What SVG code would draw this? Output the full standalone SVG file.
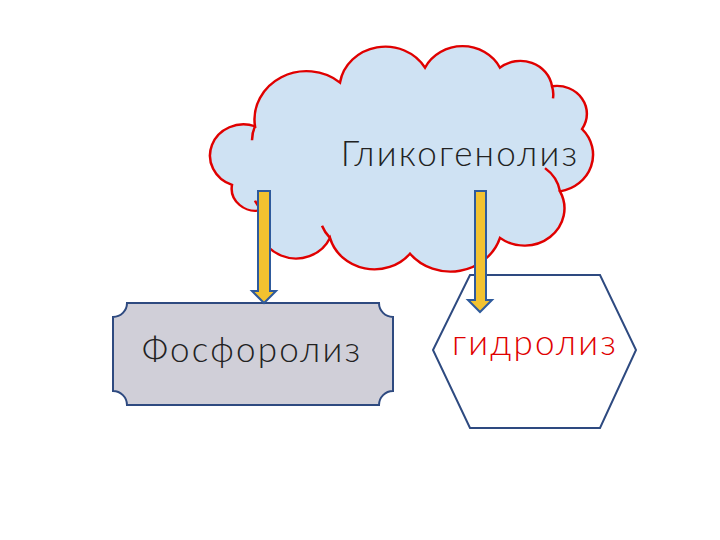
<svg xmlns="http://www.w3.org/2000/svg" width="720" height="540" viewBox="0 0 720 540">
<style>
.t{font-family:Lato,"Open Sans","DejaVu Sans",sans-serif;font-size:35px;font-weight:300;letter-spacing:2.2px}
.ar{fill:#f2c230;stroke:#2e5a9c;stroke-width:2}
</style>
<rect width="720" height="540" fill="#fff"/>
<g id="cloud">
<g transform="translate(0,10) scale(1,0.93)">
<path d="M232,188 A32,32 0 0 1 255,125 A52,52 0 0 1 340,78 A46,46 0 0 1 425,62 A42,42 0 0 1 500,62 A32,32 0 0 1 552,82 A30,30 0 0 1 582,128 A40,40 0 0 1 560,195 A40,40 0 0 1 500,245 A52,52 0 0 1 410,262 A46,46 0 0 1 330,245 A36,36 0 0 1 262,215 A24,24 0 0 1 232,188 Z" fill="#cfe2f3" stroke="#e00000" stroke-width="2.5"/>
<path d="M255,125 A40,40 0 0 0 252,140 M552,82 A30,30 0 0 1 553,95 M560,195 A40,40 0 0 0 545,170 M330,245 A40,40 0 0 1 322,232 M262,215 A30,30 0 0 1 255,205" fill="none" stroke="#e00000" stroke-width="2.5"/>
</g>
<text class="t" x="460" y="166" text-anchor="middle" fill="#222">Гликогенолиз</text>
</g>
<g id="phos">
<path d="M127,303 H379 A14,14 0 0 0 393,317 V391 A14,14 0 0 0 379,405 H127 A14,14 0 0 0 113,391 V317 A14,14 0 0 0 127,303 Z" fill="#d0cfd8" stroke="#2e4a80" stroke-width="2"/>
<text class="t" x="252" y="362" text-anchor="middle" fill="#222">Фосфоролиз</text>
</g>
<g id="hydro">
<polygon points="470,275 600,275 636,350 600,428 470,428 433,350" fill="#fff" stroke="#2e4a80" stroke-width="2"/>
<text class="t" x="535" y="355" text-anchor="middle" fill="#e00000">гидролиз</text>
</g>
<g id="connectors">
<polygon class="ar" points="258,191 270,191 270,291 276,291 264,303 252,291 258,291"/>
<polygon class="ar" points="475,191 486,191 486,300 492,300 480,312 468,300 475,300"/>
</g>
</svg>
